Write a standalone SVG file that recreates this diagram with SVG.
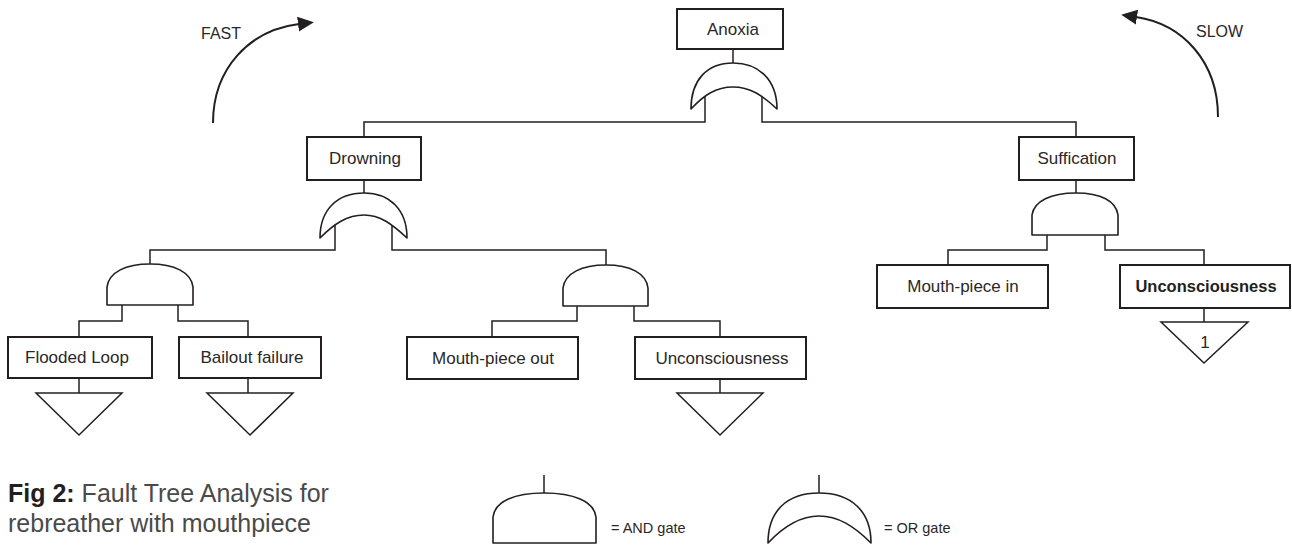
<svg xmlns="http://www.w3.org/2000/svg" width="1292" height="546" viewBox="0 0 1292 546">
  <style>
    .box { fill: #fff; stroke: #231f20; stroke-width: 2; }
    .wire { fill: none; stroke: #231f20; stroke-width: 1.5; }
    .gate { fill: #fff; stroke: #231f20; stroke-width: 1.6; stroke-linejoin: round; }
    .tri { fill: #fff; stroke: #231f20; stroke-width: 1.5; }
    .lbl { font-family: "Liberation Sans", Arial, sans-serif; font-size: 17px; fill: #2a2728; text-anchor: middle; }
    .bold { font-weight: bold; font-size: 16.5px; fill: #231f20; }
    .speed { font-family: "Liberation Sans", Arial, sans-serif; font-size: 16px; fill: #2a2728; }
    .legend { font-family: "Liberation Sans", Arial, sans-serif; font-size: 14.5px; fill: #2a2728; }
    .cap { font-family: "Liberation Sans", Arial, sans-serif; font-size: 25px; fill: #4a4a4a; }
    .arc { fill: none; stroke: #231f20; stroke-width: 2; }
  </style>
  <defs>
    <marker id="ah" markerUnits="userSpaceOnUse" markerWidth="16" markerHeight="16" viewBox="0 0 16 16" refX="1" refY="8" orient="auto">
      <path d="M0,0.5 L16,8 L0,15.5 z" fill="#231f20"/>
    </marker>
  </defs>

  <rect width="1292" height="546" fill="#fff"/>

  <!-- speed arrows -->
  <g id="fast">
    <path class="arc" d="M213,123 C213,68 250,30 299,24" marker-end="url(#ah)"/>
    <text class="speed" x="201" y="39">FAST</text>
  </g>
  <g id="slow">
    <path class="arc" d="M1218,117 C1218,62 1183,24 1136,17" marker-end="url(#ah)"/>
    <text class="speed" x="1196" y="37">SLOW</text>
  </g>

  <!-- connectors -->
  <g id="connectors">
    <!-- Anoxia -> OR gate -->
    <path class="wire" d="M733,49 V63"/>
    <path class="wire" d="M705,92 V122 H364 V137"/>
    <path class="wire" d="M762,92 V122 H1076 V137"/>
    <!-- Drowning -> OR gate -->
    <path class="wire" d="M364,180 V193"/>
    <path class="wire" d="M335,222 V250 H150 V264"/>
    <path class="wire" d="M392,222 V250 H606 V265"/>
    <!-- left AND gate -->
    <path class="wire" d="M122,305 V321 H79 V337"/>
    <path class="wire" d="M178,305 V321 H248 V337"/>
    <!-- middle AND gate -->
    <path class="wire" d="M577,306 V321 H492 V337"/>
    <path class="wire" d="M634,306 V321 H720 V337"/>
    <!-- Suffication -> AND gate -->
    <path class="wire" d="M1076,180 V193"/>
    <path class="wire" d="M1047,235 V250 H948 V265"/>
    <path class="wire" d="M1105,235 V250 H1204 V265"/>
    <!-- leaves -> transfer triangles -->
    <path class="wire" d="M79,378 V393"/>
    <path class="wire" d="M248,378 V393"/>
    <path class="wire" d="M720,379 V393"/>
    <path class="wire" d="M1204,308 V322"/>
  </g>

  <!-- gates -->
  <g id="or-anoxia">
    <path class="gate" d="M691,109 C691,80 707,63 733,63 C759,63 777,80 777,109 C762,95 750,87 733,87 C716,87 704,95 691,109 Z"/>
  </g>
  <g id="or-drowning">
    <path class="gate" d="M320,238 C320,210 337,193 364,193 C390,193 407,210 407,238 C392,224 380,215 364,215 C347,215 334,224 320,238 Z"/>
  </g>
  <g id="and-left">
    <path class="gate" d="M107,305 V287 C109,272 126,264 150,264 C174,264 191,272 193,287 V305 Z"/>
  </g>
  <g id="and-middle">
    <path class="gate" d="M563,306 V288 C565,273 582,265 606,265 C630,265 646,273 648,288 V306 Z"/>
  </g>
  <g id="and-suffication">
    <path class="gate" d="M1032,235 V215 C1034,201 1051,193 1076,193 C1101,193 1116,201 1118,215 V235 Z"/>
  </g>

  <!-- events -->
  <g id="anoxia">
    <rect class="box" x="677" y="9" width="106" height="40"/>
    <text class="lbl" x="733" y="35">Anoxia</text>
  </g>
  <g id="drowning">
    <rect class="box" x="307" y="137" width="114" height="43"/>
    <text class="lbl" x="365" y="164">Drowning</text>
  </g>
  <g id="suffication">
    <rect class="box" x="1019" y="137" width="115" height="43"/>
    <text class="lbl" x="1077" y="164">Suffication</text>
  </g>
  <g id="flooded-loop">
    <rect class="box" x="8" y="337" width="144" height="41"/>
    <text class="lbl" x="77" y="363">Flooded Loop</text>
    <polygon class="tri" points="36,393 122,393 79,435"/>
  </g>
  <g id="bailout-failure">
    <rect class="box" x="179" y="337" width="142" height="41"/>
    <text class="lbl" x="252" y="363">Bailout failure</text>
    <polygon class="tri" points="207,393 293,393 250,435"/>
  </g>
  <g id="mouthpiece-out">
    <rect class="box" x="407" y="337" width="171" height="42"/>
    <text class="lbl" x="493" y="364">Mouth-piece out</text>
  </g>
  <g id="unconsciousness-drowning">
    <rect class="box" x="635" y="337" width="171" height="42"/>
    <text class="lbl" x="722" y="364">Unconsciousness</text>
    <polygon class="tri" points="677,393 763,393 720,435"/>
  </g>
  <g id="mouthpiece-in">
    <rect class="box" x="877" y="265" width="171" height="43"/>
    <text class="lbl" x="963" y="292">Mouth-piece in</text>
  </g>
  <g id="unconsciousness-suffication">
    <rect class="box" x="1120" y="265" width="170" height="43"/>
    <text class="lbl bold" x="1206" y="292">Unconsciousness</text>
    <polygon class="tri" points="1161,322 1248,322 1204,363"/>
    <text class="lbl" x="1205" y="348">1</text>
  </g>

  <!-- legend -->
  <g id="legend-and">
    <path class="wire" d="M544,475 V493"/>
    <path class="gate" d="M493,543 V517 C495,501 515,493 544,493 C573,493 594,501 596,517 V543 Z"/>
    <text class="legend" x="611" y="533">= AND gate</text>
  </g>
  <g id="legend-or">
    <path class="wire" d="M819,475 V493"/>
    <path class="gate" d="M768,543 C768,511 787,493 819,493 C851,493 871,511 871,543 C854,526 838,516 819,516 C800,516 784,526 768,543 Z"/>
    <text class="legend" x="884" y="533">= OR gate</text>
  </g>

  <!-- caption -->
  <g id="caption">
    <text class="cap" x="8" y="502"><tspan font-weight="bold" fill="#231f20">Fig 2:</tspan> Fault Tree Analysis for</text>
    <text class="cap" x="8" y="532">rebreather with mouthpiece</text>
  </g>
</svg>
